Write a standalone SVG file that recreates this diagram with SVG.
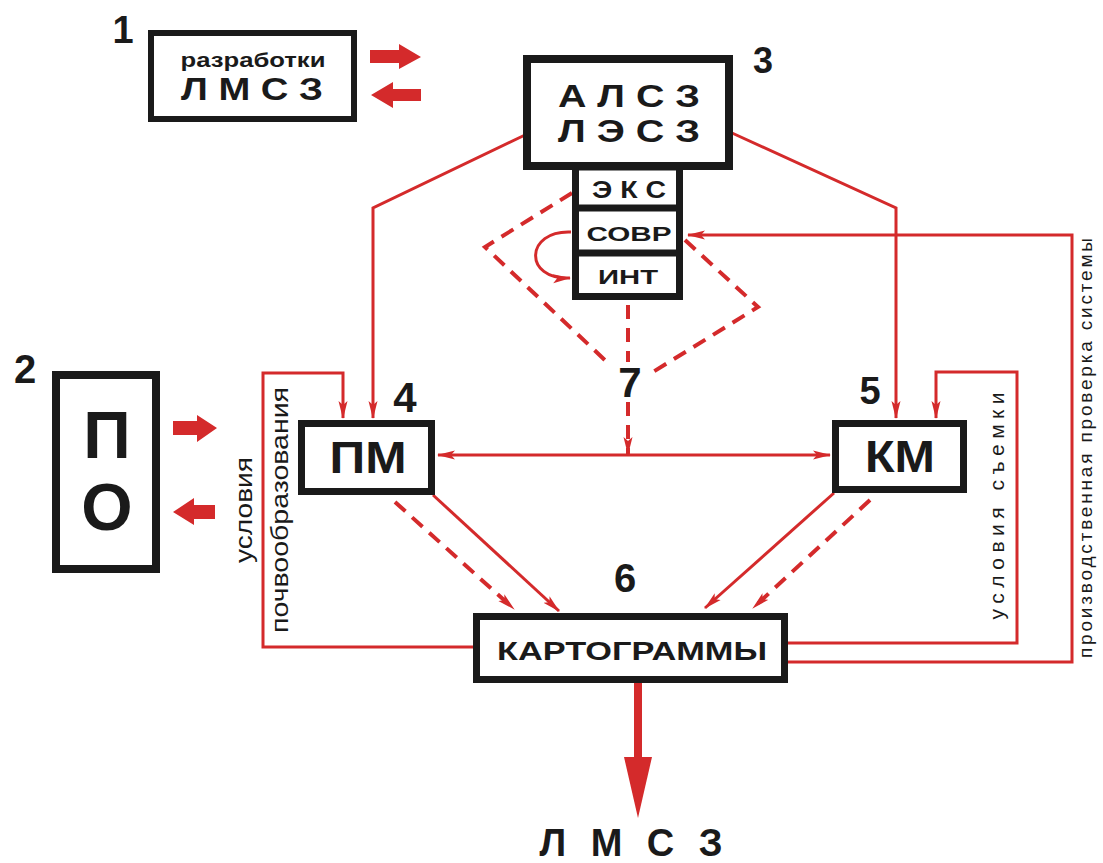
<svg xmlns="http://www.w3.org/2000/svg" width="1103" height="863" viewBox="0 0 1103 863">
<style>
.box{fill:#fff;stroke:#1a1a1a}
.t{font-family:"Liberation Sans",Arial,sans-serif;font-weight:bold;fill:#1a1a1a;text-anchor:middle}
.v{font-family:"Liberation Sans",Arial,sans-serif;fill:#1a1a1a;text-anchor:middle}
.ln{fill:none;stroke:#d42a2b;stroke-width:3}
.ds{fill:none;stroke:#d42a2b;stroke-width:4;stroke-dasharray:14 9}
.blk{fill:#d42a2b}
</style>
<defs>
<marker id="ah" markerUnits="userSpaceOnUse" markerWidth="18" markerHeight="10" refX="17" refY="5" orient="auto">
<path d="M0,0.5 L18,5 L0,9.5 L4,5 z" fill="#d42a2b"/>
</marker>
<marker id="ahs" markerUnits="userSpaceOnUse" markerWidth="18" markerHeight="10" refX="17" refY="5" orient="auto-start-reverse">
<path d="M0,0.5 L18,5 L0,9.5 L4,5 z" fill="#d42a2b"/>
</marker>
</defs>
<rect width="1103" height="863" fill="#fff"/>

<g id="connectors">
<polyline class="ln" points="525,135 373,208 373,418" marker-end="url(#ah)"/>
<polyline class="ln" points="732,133 896,208 896,418" marker-end="url(#ah)"/>
<polyline class="ln" points="476,647 263,647 263,373 343,373 343,418" marker-end="url(#ah)"/>
<polyline class="ln" points="786,643 1017,643 1017,372 936,372 936,418" marker-end="url(#ah)"/>
<polyline class="ln" points="786,662 1072,662 1072,235 688,235" marker-end="url(#ah)"/>
<path class="ln" d="M571,232 C525,230 523,280 570,278" marker-end="url(#ah)"/>
<line class="ln" x1="438" y1="455" x2="830" y2="455" marker-start="url(#ahs)" marker-end="url(#ah)"/>
<line class="ln" x1="433" y1="495" x2="559" y2="611" marker-end="url(#ah)"/>
<line class="ds" x1="395" y1="502" x2="514" y2="609" marker-end="url(#ah)"/>
<line class="ln" x1="834" y1="493" x2="705" y2="608" marker-end="url(#ah)"/>
<line class="ds" x1="870" y1="500" x2="753" y2="608" marker-end="url(#ah)"/>
<polyline class="ds" points="572,193 485,247 608,363"/>
<polyline class="ds" points="685,240 758,307 653,372"/>
<line class="ds" x1="628" y1="305" x2="628" y2="362"/>
<line class="ds" x1="628" y1="402" x2="628" y2="454" marker-end="url(#ah)"/>
<rect class="blk" x="634" y="683" width="8" height="76"/>
<polygon class="blk" points="624,757 652,757 638,818"/>
<polygon class="blk" points="370,50 399,50 399,44 421,57 399,69 399,63 370,63"/>
<polygon class="blk" points="421,89 393,89 393,82 371,95 393,108 393,101 421,101"/>
<polygon class="blk" points="173,421 197,421 197,415 217,428 197,442 197,435 173,435"/>
<polygon class="blk" points="215,505 194,505 194,498 173,512 194,525 194,519 215,519"/>
</g>

<g id="n1">
<rect class="box" x="151" y="33" width="203" height="86" stroke-width="6"/>
<text class="t" x="253" y="67" font-size="21" textLength="145" lengthAdjust="spacingAndGlyphs">разработки</text>
<text class="t" x="252" y="100" font-size="31" textLength="142" lengthAdjust="spacingAndGlyphs">Л М С З</text>
<text class="t" x="123" y="43" font-size="38">1</text>
</g>

<g id="n2">
<rect class="box" x="56" y="375" width="100" height="194" stroke-width="8"/>
<text class="t" x="107" y="458" font-size="66">П</text>
<text class="t" x="107" y="530" font-size="66">О</text>
<text class="t" x="25" y="383" font-size="40">2</text>
</g>

<g id="n3">
<rect class="box" x="527" y="59" width="202" height="107" stroke-width="8"/>
<text class="t" x="629" y="107" font-size="31" textLength="142" lengthAdjust="spacingAndGlyphs">А Л С З</text>
<text class="t" x="629" y="142" font-size="31" textLength="142" lengthAdjust="spacingAndGlyphs">Л Э С З</text>
<text class="t" x="763" y="73" font-size="36">3</text>
</g>

<g id="n3-stack">
<rect class="box" x="575.5" y="167" width="104" height="129.5" stroke-width="7"/>
<line x1="575" y1="208" x2="680" y2="208" stroke="#1a1a1a" stroke-width="7"/>
<line x1="575" y1="253" x2="680" y2="253" stroke="#1a1a1a" stroke-width="7"/>
<text class="t" x="629" y="198" font-size="23" textLength="74" lengthAdjust="spacingAndGlyphs">Э К С</text>
<text class="t" x="629" y="241" font-size="21" textLength="85" lengthAdjust="spacingAndGlyphs">СОВР</text>
<text class="t" x="628" y="284" font-size="21" textLength="60" lengthAdjust="spacingAndGlyphs">ИНТ</text>
</g>

<g id="n7">
<text class="t" x="630" y="397" font-size="42">7</text>
</g>

<g id="n4">
<rect class="box" x="301.5" y="423.5" width="130" height="68" stroke-width="7"/>
<text class="t" x="368" y="473" font-size="44" textLength="77" lengthAdjust="spacingAndGlyphs">ПМ</text>
<text class="t" x="405" y="412" font-size="42">4</text>
</g>

<g id="n5">
<rect class="box" x="835.5" y="423.5" width="128" height="66" stroke-width="7"/>
<text class="t" x="900" y="472" font-size="44" textLength="70" lengthAdjust="spacingAndGlyphs">КМ</text>
<text class="t" x="870" y="404" font-size="38">5</text>
</g>

<g id="n6">
<rect class="box" x="476.5" y="616.5" width="308" height="63" stroke-width="7"/>
<text class="t" x="632" y="660" font-size="26" textLength="270" lengthAdjust="spacingAndGlyphs">КАРТОГРАММЫ</text>
<text class="t" x="625" y="592" font-size="40">6</text>
</g>

<g id="out">
<text class="t" x="631" y="856" font-size="38" textLength="183" lengthAdjust="spacing">Л М С З</text>
</g>

<g id="labels">
<text class="v" font-size="23" transform="translate(252,510) rotate(-90)" textLength="106" lengthAdjust="spacingAndGlyphs">условия</text>
<text class="v" font-size="23" transform="translate(288,510) rotate(-90)" textLength="246" lengthAdjust="spacingAndGlyphs">почвообразования</text>
<text class="v" font-size="21" transform="translate(1004,506) rotate(-90)" textLength="227" lengthAdjust="spacing">условия съемки</text>
<text class="v" font-size="19" transform="translate(1092,448) rotate(-90)" textLength="420" lengthAdjust="spacing">производственная проверка системы</text>
</g>
</svg>
